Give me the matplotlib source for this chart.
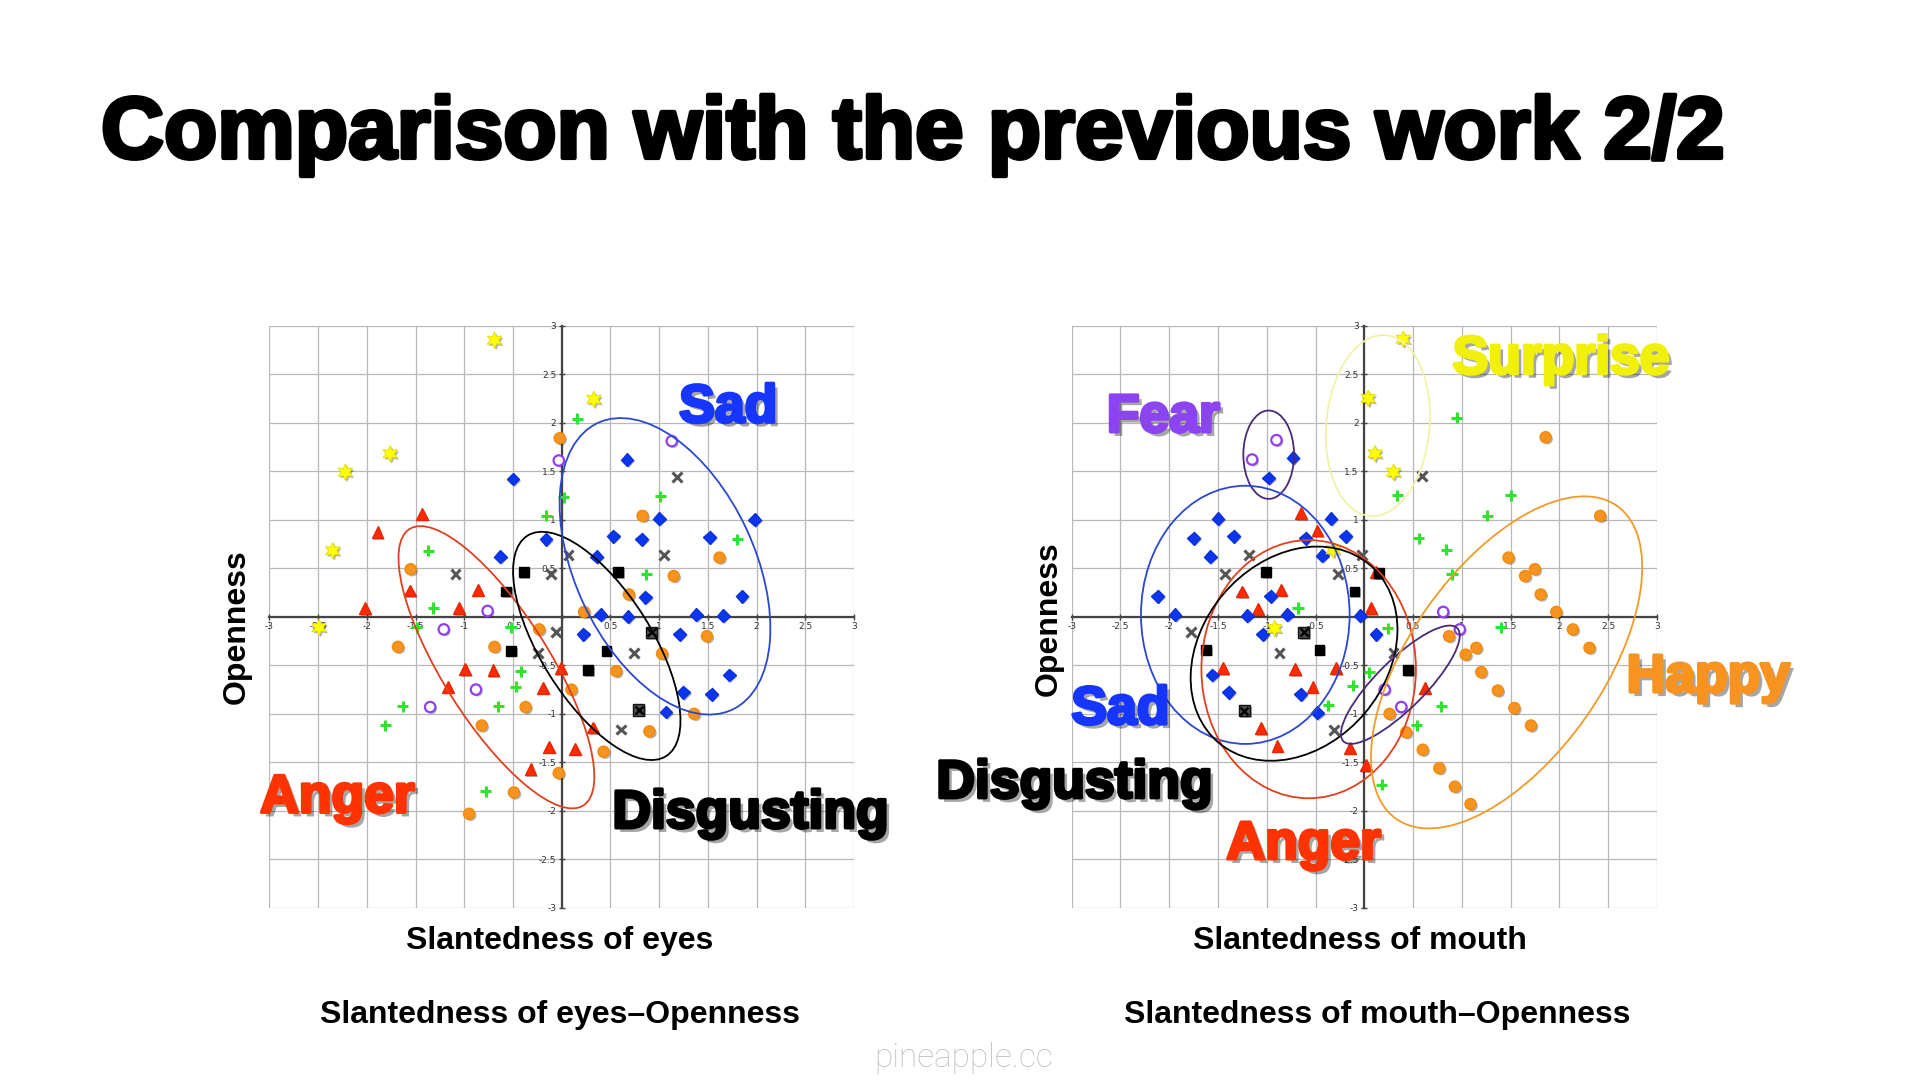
import numpy as np
import matplotlib
matplotlib.use("Agg")
import matplotlib.pyplot as plt
import matplotlib.patheffects as pe
from matplotlib.patches import Ellipse

# ---- data: (slantedness, openness) per emotion ----
eyes_surprise = [(-0.69, 2.85), (0.33, 2.24), (-1.76, 1.68), (-2.22, 1.49), (-2.35, 0.68), (-2.49, -0.11)]
eyes_anger = [(-1.43, 1.06), (-1.89, 0.87), (-1.56, 0.27), (-2.02, 0.09), (-1.05, 0.09), (-0.86, 0.28),
              (-1.17, -0.72), (-0.99, -0.54), (-0.70, -0.55), (-0.01, -0.53), (-0.19, -0.73), (0.32, -1.14),
              (-0.13, -1.34), (0.14, -1.36), (-0.32, -1.57)]
eyes_sad = [(0.67, 1.62), (-0.50, 1.42), (-0.16, 0.80), (0.53, 0.83), (0.82, 0.80), (1.00, 1.01),
            (-0.63, 0.62), (0.36, 0.62), (0.86, 0.20), (0.40, 0.02), (0.68, 0.00), (1.38, 0.02),
            (0.22, -0.18), (1.21, -0.18), (1.25, -0.78), (1.07, -0.98), (1.98, 1.00), (1.52, 0.82),
            (1.85, 0.21), (1.66, 0.01), (1.72, -0.60), (1.54, -0.80)]
eyes_disgust_x = [(1.18, 1.44), (-1.09, 0.44), (0.07, 0.64), (1.05, 0.64), (-0.11, 0.44), (-0.06, -0.16),
                  (-0.24, -0.37), (0.74, -0.37), (0.61, -1.16)]
eyes_disgust_sq = [(-0.39, 0.46), (0.58, 0.46), (-0.57, 0.26), (-0.52, -0.35), (0.46, -0.35), (0.27, -0.55)]
eyes_disgust_xsq = [(0.92, -0.16), (0.79, -0.96)]
eyes_fear = [(-0.03, 1.61), (1.13, 1.81), (-0.76, 0.06), (-1.21, -0.13), (-0.88, -0.75), (-1.35, -0.93)]
eyes_happy = [(-0.02, 1.84), (0.83, 1.04), (1.15, 0.42), (0.69, 0.23), (0.23, 0.05), (-1.55, 0.49),
              (-1.68, -0.31), (-0.23, -0.13), (-0.69, -0.31), (1.03, -0.38), (0.56, -0.56), (0.10, -0.75),
              (-0.37, -0.93), (1.36, -1.00), (-0.82, -1.12), (0.90, -1.18), (0.43, -1.39), (-0.03, -1.61),
              (-0.49, -1.81), (-0.95, -2.03), (1.62, 0.61), (1.49, -0.20)]
eyes_other = [(0.16, 2.04), (0.02, 1.23), (1.01, 1.24), (-1.37, 0.68), (-1.32, 0.09), (-1.49, -0.11),
              (-1.63, -0.92), (-1.81, -1.12), (-0.16, 1.04), (0.87, 0.44), (-0.52, -0.11), (-0.42, -0.56),
              (-0.47, -0.72), (-0.65, -0.92), (1.80, 0.80), (-0.78, -1.80)]

mouth_surprise = [(0.04, 2.25), (0.11, 1.68), (0.40, 2.86), (0.30, 1.49), (-0.32, 0.69), (-0.92, -0.12)]
mouth_fear = [(-0.90, 1.82), (-1.15, 1.62), (0.81, 0.05), (0.98, -0.13), (0.21, -0.75), (0.38, -0.93)]
mouth_sad = [(-0.73, 1.64), (-0.98, 1.43), (-1.50, 1.01), (-0.34, 1.01), (-1.75, 0.81), (-1.34, 0.83),
             (-0.60, 0.81), (-0.19, 0.83), (-1.58, 0.62), (-0.43, 0.63), (-2.12, 0.21), (-0.96, 0.21),
             (-1.94, 0.02), (-1.20, 0.01), (-0.79, 0.02), (-0.04, 0.01), (-1.04, -0.18), (0.12, -0.18),
             (-1.56, -0.60), (-1.39, -0.78), (-0.65, -0.80), (-0.48, -0.99)]
mouth_anger = [(-0.65, 1.07), (-0.48, 0.89), (0.12, 0.46), (-1.25, 0.26), (-0.85, 0.28), (-1.09, 0.08),
               (0.07, 0.09), (-1.45, -0.53), (-0.71, -0.54), (-0.29, -0.53), (-0.53, -0.72), (-1.06, -1.15),
               (-0.89, -1.33), (-0.15, -1.35), (0.02, -1.53), (0.62, -0.73)]
mouth_disgust_x = [(-1.18, 0.64), (-0.02, 0.64), (-1.43, 0.44), (-0.27, 0.44), (0.59, 1.45), (-1.78, -0.16),
                   (-0.87, -0.37), (-0.31, -1.17), (0.30, -0.37)]
mouth_disgust_sq = [(-1.01, 0.46), (0.15, 0.45), (-0.10, 0.26), (-1.62, -0.34), (-0.46, -0.34), (0.45, -0.55)]
mouth_disgust_xsq = [(-0.62, -0.16), (-1.23, -0.97)]
mouth_happy = [(1.86, 1.85), (2.42, 1.04), (1.48, 0.61), (1.75, 0.49), (1.65, 0.42), (1.81, 0.23),
               (1.97, 0.05), (2.14, -0.13), (0.87, -0.20), (1.15, -0.32), (1.04, -0.39), (2.31, -0.32),
               (1.20, -0.57), (1.37, -0.76), (1.54, -0.94), (0.26, -1.00), (1.71, -1.12), (0.43, -1.19),
               (0.60, -1.37), (0.77, -1.56), (0.93, -1.75), (1.09, -1.93)]
mouth_other = [(0.95, 2.05), (0.34, 1.25), (1.50, 1.25), (1.26, 1.04), (0.56, 0.81), (0.84, 0.69),
               (0.90, 0.44), (-0.68, 0.09), (0.24, -0.12), (1.40, -0.11), (0.05, -0.57), (-0.12, -0.71),
               (-0.37, -0.91), (0.79, -0.92), (0.54, -1.12), (0.18, -1.73)]

# cluster outlines: (centre x, centre y, width, height, angle)
eyes_ellipses = {
    "anger": (-0.67, -0.52, 3.36, 1.10, -58),
    "disgust": (0.36, -0.30, 2.68, 1.14, -58),
    "sad": (1.06, 0.52, 3.26, 1.84, -65),
}
mouth_ellipses = {
    "surprise": (0.14, 1.97, 1.06, 1.87, -5),
    "fear": (-0.98, 1.67, 0.52, 0.91, 0),
    "sad": (-1.22, 0.02, 2.14, 2.66, 0),
    "anger": (-0.57, -0.54, 2.20, 2.66, 0),
    "disgust": (-0.72, -0.38, 2.40, 1.90, 50),
    "fear2": (0.37, -0.70, 1.65, 0.50, 45),
    "happy": (1.46, -0.47, 3.94, 1.98, 55),
}

# big emotion names placed in data coordinates of each panel
eyes_labels = [("Sad", 1.71, 2.15, "sad"), ("Anger", -2.30, -1.87, "anger"),
               ("Disgusting", 1.94, -2.03, "disgust")]
mouth_labels = [("Fear", -2.06, 2.05, "fear"), ("Surprise", 2.02, 2.65, "surprise"),
                ("Happy", 3.53, -0.63, "happy"), ("Sad", -2.50, -0.96, "sad"),
                ("Disgusting", -2.97, -1.72, "disgust"), ("Anger", -0.62, -2.35, "anger")]

# ---- styles ----
label_colors = {"sad": "#1636ff", "anger": "#ff3300", "disgust": "#000000",
                "fear": "#8c44f0", "surprise": "#f0f00a", "happy": "#f7931e"}
ellipse_colors = {"anger": "#e0401e", "disgust": "#000000", "sad": "#2a48d0",
                  "surprise": "#f2f2a8", "fear": "#4a2a78", "fear2": "#4a2a78", "happy": "#f09a28"}

marker_shadow = [pe.SimplePatchShadow(offset=(1.2, -1.2), shadow_rgbFace="k", alpha=0.3), pe.Normal()]


def scatter(ax, pts, **kw):
    xs = [p[0] for p in pts]
    ys = [p[1] for p in pts]
    ax.plot(xs, ys, linestyle="none", zorder=4, path_effects=marker_shadow, **kw)


def draw_panel(ax, groups, ellipses, labels):
    ticks = np.arange(-3, 3.01, 0.5)
    ax.set_xlim(-3, 3)
    ax.set_ylim(-3, 3)
    ax.set_xticks(ticks)
    ax.set_yticks(ticks)
    ax.set_xticklabels(["" if v == 0 else f"{v:g}" for v in ticks])
    ax.set_yticklabels(["" if v == 0 else f"{v:g}" for v in ticks])
    ax.grid(True, color="#b8b8b8", linewidth=0.9)
    ax.set_axisbelow(True)
    ax.spines["left"].set_position("zero")
    ax.spines["bottom"].set_position("zero")
    for s in ("left", "bottom"):
        ax.spines[s].set_color("#444444")
        ax.spines[s].set_linewidth(1.6)
        ax.spines[s].set_zorder(2)
    ax.spines["top"].set_visible(False)
    ax.spines["right"].set_visible(False)
    ax.tick_params(direction="inout", length=4, width=1, color="#444444",
                   labelsize=6.5, labelcolor="#333333", pad=2)

    surprise, anger, sad, dis_x, dis_sq, dis_xsq, fear, happy, other = groups
    scatter(ax, other, marker="+", ms=8, mew=2.2, color="#2ee52e")
    scatter(ax, happy, marker="o", ms=8, color="#f7931e", mec="#f08c10")
    scatter(ax, anger, marker="^", ms=8.5, color="#ff2a00", mec="#e82600")
    scatter(ax, sad, marker="D", ms=6.5, color="#0a36f0", mec="#0a30d8")
    scatter(ax, dis_x, marker="x", ms=7, mew=2.2, color="#555555")
    scatter(ax, dis_sq, marker="s", ms=7, color="#000000")
    scatter(ax, dis_xsq, marker="s", ms=8, color="#555555", mec="#111111")
    scatter(ax, dis_xsq, marker="x", ms=6, mew=1.8, color="#000000")
    scatter(ax, fear, marker="o", ms=7.5, mfc="white", mec="#9040f0", mew=1.6)
    scatter(ax, surprise, marker=(6, 1, 0), ms=12, color="#ffff00", mec="#e6d800", mew=0.6)

    for key, (cx, cy, w, h, ang) in ellipses.items():
        ax.add_patch(Ellipse((cx, cy), w, h, angle=ang, fill=False,
                             edgecolor=ellipse_colors[key], linewidth=1.3, zorder=5))

    for text, x, y, key in labels:
        col = label_colors[key]
        ax.text(x, y, text, ha="center", va="center", fontsize=38.5, fontweight="bold",
                family="Liberation Sans", color=col, clip_on=False, zorder=8,
                path_effects=[pe.SimplePatchShadow(offset=(3, -3), shadow_rgbFace="k", alpha=0.35),
                              pe.Stroke(linewidth=2.4, foreground=col), pe.Normal()])


fig = plt.figure(figsize=(19.2, 10.8), dpi=100)
fig.patch.set_facecolor("white")

fig.text(0.0526, 0.8537, "Comparison with the previous work 2/2", ha="left", va="baseline",
         fontsize=62.8, fontweight="bold", family="Liberation Sans", color="black",
         path_effects=[pe.Stroke(linewidth=3, foreground="black"), pe.Normal()])

ax1 = fig.add_axes([0.1403, 0.1593, 0.3045, 0.5392])
draw_panel(ax1, [eyes_surprise, eyes_anger, eyes_sad, eyes_disgust_x, eyes_disgust_sq,
                 eyes_disgust_xsq, eyes_fear, eyes_happy, eyes_other], eyes_ellipses, eyes_labels)

ax2 = fig.add_axes([0.5582, 0.1593, 0.3047, 0.5392])
draw_panel(ax2, [mouth_surprise, mouth_anger, mouth_sad, mouth_disgust_x, mouth_disgust_sq,
                 mouth_disgust_xsq, mouth_fear, mouth_happy, mouth_other], mouth_ellipses, mouth_labels)

# axis titles and captions
for fx, fy in ((0.1234, 0.4194), (0.5464, 0.4269)):
    fig.text(fx, fy, "Openness", rotation=90, ha="center", va="center", fontsize=23,
             fontweight="bold", family="Liberation Sans")
caption_style = dict(ha="center", va="baseline", fontsize=23, fontweight="bold", family="Liberation Sans")
fig.text(0.2917, 0.1215, "Slantedness of eyes", **caption_style)
fig.text(0.7085, 0.1215, "Slantedness of mouth", **caption_style)
fig.text(0.2917, 0.0525, "Slantedness of eyes\u2013Openness", **caption_style)
fig.text(0.7175, 0.0525, "Slantedness of mouth\u2013Openness", **caption_style)
fig.text(0.5020, 0.0200, "pineapple.cc", ha="center", va="center", fontsize=24,
         family="Roboto", fontweight="light", color="#c0c0c0")

fig.savefig("out.png", dpi=100)
